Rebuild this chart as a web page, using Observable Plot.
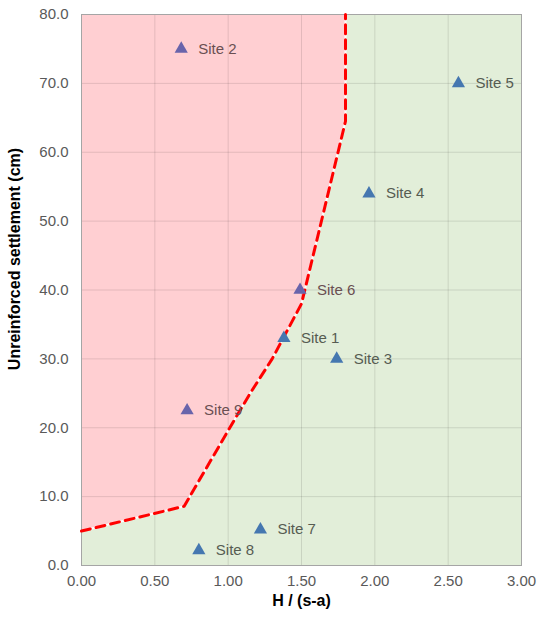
<!DOCTYPE html>
<html>
<head>
<meta charset="utf-8">
<script src="https://cdn.jsdelivr.net/npm/d3@7"></script>
<script src="https://cdn.jsdelivr.net/npm/@observablehq/plot@0.6"></script>
<style>
  html, body { margin: 0; padding: 0; background: #fff; }
  #chart svg { display: block; }
</style>
</head>
<body>
<div id="chart"></div>
<script>
// Site data
const siteNames = ["Site 1", "Site 2", "Site 3", "Site 4", "Site 5", "Site 6", "Site 7", "Site 8", "Site 9"];
const siteH = [1.38, 0.68, 1.74, 1.96, 2.57, 1.49, 1.22, 0.80, 0.72];
const siteSettlement = [33.0, 75.0, 30.0, 54.0, 70.0, 40.0, 5.2, 2.2, 22.5];

// Boundary (dashed red line) between zones
const boundaryH = [0, 0.70, 1.00, 1.15, 1.30, 1.50, 1.80, 1.80];
const boundaryS = [5.0, 8.6, 19.6, 25.0, 30.0, 38.0, 64.5, 80.0];

// Axis ticks
const xTicks = [0, 0.5, 1.0, 1.5, 2.0, 2.5, 3.0];
const yTicks = [0, 10, 20, 30, 40, 50, 60, 70, 80];

const sites = siteNames.map((name, i) => ({name, h: siteH[i], s: siteSettlement[i]}));
const boundary = boundaryH.map((h, i) => ({h, s: boundaryS[i]}));
const polyPts = [...boundary.map(d => [d.h, d.s]), [0, 80]];
const inRed = d => d3.polygonContains(polyPts, [d.h, d.s]);

const font = "Liberation Sans, Arial, sans-serif";

const chart = Plot.plot({
  width: 537,
  height: 617,
  marginLeft: 81,
  marginRight: 16,
  marginTop: 14,
  marginBottom: 52,
  style: {fontFamily: font, fontSize: "15px", color: "#595959", background: "#fff"},
  x: {domain: [0, 3], label: null},
  y: {domain: [0, 80], label: null},
  marks: [
    Plot.frame({fill: "#e2eed9", stroke: null}),
    Plot.areaY(boundary, {x: "h", y1: "s", y2: 80, fill: "#ffcfd2", curve: "linear"}),
    Plot.gridX(xTicks, {stroke: "#000", strokeOpacity: 0.11}),
    Plot.gridY(yTicks, {stroke: "#000", strokeOpacity: 0.11}),
    Plot.frame({stroke: "#a5a5a5", strokeWidth: 1}),
    Plot.line(boundary, {x: "h", y: "s", stroke: "#fff", strokeWidth: 2}),
    Plot.line(boundary, {x: "h", y: "s", stroke: "#ff0000", strokeWidth: 3, strokeDasharray: "9,6"}),
    Plot.dot(sites, {x: "h", y: "s", symbol: "triangle", r: 4.9, fill: d => inRed(d) ? "#6964ab" : "#4577b0", stroke: null}),
    Plot.text(sites, {x: "h", y: "s", text: "name", dx: 17, textAnchor: "start", fontSize: 15, fill: d => inRed(d) ? "#6a4f52" : "#565c52"}),
    Plot.axisX(xTicks, {tickSize: 0, tickPadding: 10, fontSize: 15, fill: "#595959", tickFormat: d3.format(".2f"), label: null}),
    Plot.axisY(yTicks, {tickSize: 0, tickPadding: 13, fontSize: 15, fill: "#595959", tickFormat: d3.format(".1f"), label: null}),
    Plot.text(["H / (s-a)"], {frameAnchor: "bottom", textAnchor: "middle", dy: 40, fontWeight: "bold", fontSize: 16, fill: "#000"}),
    Plot.text(["Unreinforced settlement (cm)"], {frameAnchor: "left", textAnchor: "middle", dx: -67, dy: -31, rotate: -90, fontWeight: "bold", fontSize: 16, fill: "#000"})
  ]
});
document.getElementById("chart").appendChild(chart);
</script>
</body>
</html>
